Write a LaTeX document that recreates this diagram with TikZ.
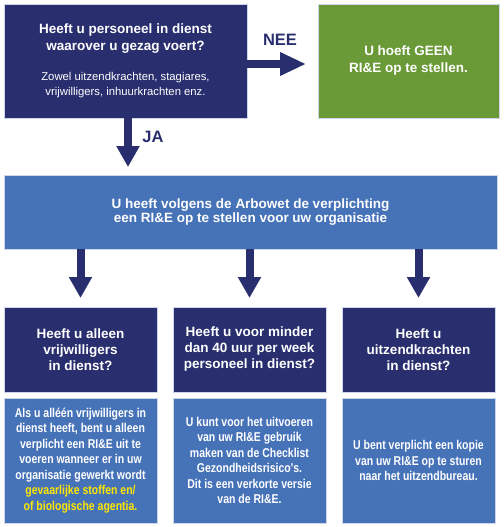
\documentclass[tikz,border=0pt]{standalone}
\usepackage{fontspec}
\setmainfont{Liberation Sans}
\newfontfamily\narrowfont[FakeStretch=0.82]{Liberation Sans}
\usepackage{xcolor}
\usetikzlibrary{positioning,arrows.meta}
\definecolor{navycolor}{RGB}{41,47,110}
\definecolor{bluecolor}{RGB}{70,114,184}
\definecolor{greencolor}{RGB}{106,154,55}
\definecolor{edgecolor}{RGB}{205,214,232}
\definecolor{warncolor}{RGB}{255,230,0}

\begin{document}
\begin{tikzpicture}[x=1pt,y=-1pt,
box/.style={draw=edgecolor,line width=0.8pt,inner sep=0pt,outer sep=0pt,align=center,text=white},
head/.style={box,fill=navycolor,minimum width=153pt,minimum height=85pt,font=\fontsize{13.5}{16}\selectfont\bfseries},
body/.style={box,fill=bluecolor,minimum width=153pt,minimum height=125pt,font=\fontsize{12.8}{15.5}\selectfont\narrowfont\bfseries},
arr/.style={-{Triangle[length=21pt,width=22pt]},line width=8pt,navycolor},
lbl/.style={text=navycolor,font=\fontsize{16.5}{18}\selectfont\bfseries}]
\useasboundingbox (0,0) rectangle (503,527);
% top row
\node[box,fill=navycolor,minimum width=243pt,minimum height=114pt,font=\fontsize{13.5}{15.5}\selectfont] (q1) at (125.5,61) {\textbf{Heeft u personeel in dienst}\\[2pt]\textbf{waarover u gezag voert?}\\[14pt]\fontsize{11.3}{15.5}\selectfont Zowel uitzendkrachten, stagiares,\\\fontsize{11.3}{15.5}\selectfont vrijwilligers, inhuurkrachten enz.};
\node[box,fill=greencolor,minimum width=181pt,minimum height=114pt,font=\fontsize{13.5}{17}\selectfont\bfseries] (geen) at (408.5,61) {U hoeft GEEN\\RI\&E op te stellen.};
\node[box,fill=bluecolor,minimum width=493pt,minimum height=74pt,font=\fontsize{13.5}{14}\selectfont\bfseries] (plicht) at (250.5,212) {U heeft volgens de Arbowet de verplichting\\een RI\&E op te stellen voor uw organisatie};
% three questions
\node[head] (h1) at (80.5,349.5) {Heeft u alleen\\vrijwilligers\\in dienst?};
\node[head,right=16pt of h1] (h2) {Heeft u voor minder\\dan 40 uur per week\\personeel in dienst?};
\node[head,right=16pt of h2] (h3) {Heeft u\\uitzendkrachten\\in dienst?};
\node[body,below=6pt of h1] (b1) {Als u alléén vrijwilligers in\\dienst heeft, bent u alleen\\verplicht een RI\&E uit te\\voeren wanneer er in uw\\organisatie gewerkt wordt\\\textcolor{warncolor}{gevaarlijke stoffen en/}\\\textcolor{warncolor}{of biologische agentia.}};
\node[body,below=6pt of h2] (b2) {U kunt voor het uitvoeren\\van uw RI\&E gebruik\\maken van de Checklist\\Gezondheidsrisico's.\\Dit is een verkorte versie\\van de RI\&E.};
\node[body,below=6pt of h3] (b3) {U bent verplicht een kopie\\van uw RI\&E op te sturen\\naar het uitzendbureau.};
% arrows
\coordinate (jastart) at ([xshift=2.5pt]q1.south);
\draw[arr,-{Triangle[length=26pt,width=22pt]},shorten >=12pt] ([yshift=-3pt]q1.east) -- ([yshift=-3pt]geen.west);
\draw[arr,shorten >=8pt] (jastart) -- (jastart |- plicht.north);
\node[lbl] (nee) at (280,40) {NEE};
\node[lbl] (ja) at (153,137) {JA};
\foreach \h in {h1,h2,h3}
  \draw[arr,shorten >=9pt] (\h.north |- plicht.south) -- (\h.north);
\end{tikzpicture}
\end{document}
